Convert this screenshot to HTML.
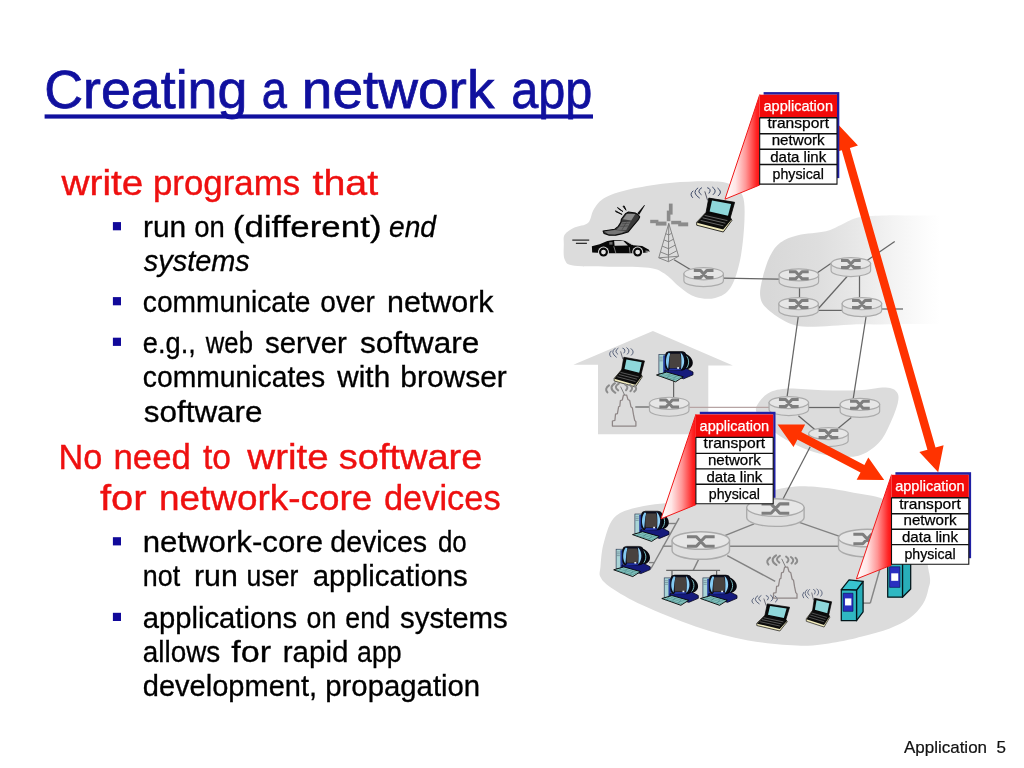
<!DOCTYPE html>
<html><head><meta charset="utf-8"><title>Creating a network app</title>
<style>html,body{margin:0;padding:0;background:#fff;overflow:hidden}svg{display:block}text{font-family:"Liberation Sans",sans-serif;white-space:pre}</style></head><body>
<svg width="1024" height="768" viewBox="0 0 1024 768" style="will-change:transform">
<rect width="1024" height="768" fill="#ffffff"/>
<defs>
<linearGradient id="gisp" gradientUnits="userSpaceOnUse" x1="760" y1="0" x2="940" y2="0"><stop offset="0.05" stop-color="#d8d8d8"/><stop offset="0.32" stop-color="#dedede"/><stop offset="0.54" stop-color="#e8e8e8"/><stop offset="0.755" stop-color="#f4f4f4"/><stop offset="0.92" stop-color="#fcfcfc"/><stop offset="1" stop-color="#ffffff"/></linearGradient>
<linearGradient id="gcall" x1="0" y1="0" x2="1" y2="0"><stop offset="0" stop-color="#ffffff"/><stop offset="0.3" stop-color="#ffe6e6"/><stop offset="0.6" stop-color="#ff9696"/><stop offset="0.9" stop-color="#ff2626"/><stop offset="1" stop-color="#ff1010"/></linearGradient>
</defs>
<path d="M563.8,244.2C563.8,240.0 563.0,237.3 564.8,234.5C566.6,231.7 570.6,229.6 574.5,227.6C578.4,225.6 585.0,225.8 588.2,222.7C591.5,219.6 591.1,213.2 594.0,209.0C596.9,204.8 599.3,200.7 605.8,197.3C612.3,193.9 622.0,191.0 633.1,188.6C644.2,186.2 659.2,183.9 672.2,182.7C685.2,181.5 701.5,181.0 711.3,181.3C721.1,181.6 725.6,182.2 730.8,184.6C736.0,186.9 740.2,189.7 742.5,195.4C744.8,201.1 744.8,208.4 744.5,218.8C744.2,229.2 742.8,246.5 740.5,257.9C738.2,269.3 735.0,280.5 730.8,287.2C726.6,293.9 721.1,296.3 715.2,297.9C709.3,299.5 701.5,298.8 695.6,297.0C689.7,295.2 685.2,291.1 680.0,287.2C674.8,283.3 669.6,276.8 664.4,273.5C659.2,270.2 657.2,268.8 648.8,267.7C640.3,266.6 626.0,267.0 613.6,266.7C601.2,266.4 582.6,266.8 574.5,265.7C566.4,264.6 566.6,263.4 564.8,259.8C563.0,256.2 563.8,248.4 563.8,244.2Z" fill="#dcdcdc"/>
<path d="M760.2,296.0C759.6,291.2 760.8,285.4 762.4,278.8C764.0,272.2 766.8,262.5 769.8,256.5C772.8,250.5 775.8,246.2 780.5,242.6C785.2,239.0 790.4,237.1 798.0,235.2C805.6,233.3 818.6,233.0 826.0,231.2C833.4,229.4 836.9,226.5 842.4,224.2C847.9,221.9 851.5,218.8 858.8,217.3C866.1,215.8 876.8,215.7 886.2,215.4C895.6,215.1 904.4,215.6 915.0,215.6C925.6,215.6 938.3,215.6 950.0,215.6C961.7,215.6 978.3,206.5 985.0,215.6C991.7,224.7 990.0,251.9 990.0,270.0C990.0,288.1 991.7,315.0 985.0,324.0C978.3,333.0 961.7,324.0 950.0,324.0C938.3,324.0 926.7,323.9 915.0,324.0C903.3,324.1 890.3,324.3 880.0,324.4C869.7,324.5 865.6,324.0 853.4,324.4C841.2,324.8 818.3,327.2 806.9,326.7C795.5,326.2 791.8,324.4 785.0,321.2C778.2,318.1 770.0,311.8 765.9,307.6C761.8,303.4 760.8,300.8 760.2,296.0Z" fill="url(#gisp)"/>
<path d="M756.4,406.6C757.9,403.0 762.5,396.8 767.4,393.8C772.3,390.8 776.5,389.3 785.6,388.7C794.7,388.1 810.0,389.9 822.1,390.2C834.2,390.4 847.9,390.7 858.5,390.2C869.1,389.7 879.5,387.1 885.9,387.4C892.3,387.7 894.8,389.4 896.8,392.0C898.8,394.6 899.0,397.5 897.8,403.0C896.6,408.5 892.8,418.1 889.6,424.8C886.4,431.5 883.8,437.9 878.6,443.1C873.4,448.3 866.4,453.7 858.5,455.8C850.6,457.9 839.4,456.7 831.2,455.8C823.0,454.9 816.9,453.1 809.3,450.4C801.7,447.7 793.0,443.6 785.6,439.4C778.2,435.2 769.6,428.9 765.0,425.0C760.4,421.1 759.6,418.8 758.2,415.7C756.8,412.6 754.9,410.2 756.4,406.6Z" fill="#dcdcdc"/>
<path d="M600.5,566.6C601.1,560.8 601.4,550.5 604.0,542.0C606.6,533.5 608.8,521.8 616.4,515.6C624.0,509.4 636.6,507.4 649.8,505.0C663.0,502.6 679.1,502.9 695.5,501.5C711.9,500.1 733.0,498.6 748.2,496.3C763.4,494.0 775.8,489.1 786.9,487.5C798.0,485.9 803.9,485.9 815.0,486.8C826.1,487.7 841.4,490.2 853.7,492.7C866.0,495.1 878.4,495.6 888.9,501.5C899.4,507.4 910.3,516.0 917.0,528.0C923.7,540.0 927.4,563.4 929.3,573.6C931.2,583.8 929.4,584.2 928.3,589.3C927.2,594.3 926.1,599.0 922.9,603.9C919.7,608.8 914.7,614.5 909.2,618.6C903.7,622.7 897.6,625.4 889.7,628.4C881.8,631.4 870.9,634.3 862.0,636.6C853.1,638.9 846.3,640.7 836.1,642.2C825.9,643.7 815.6,646.0 801.0,645.7C786.4,645.4 765.8,643.6 748.2,640.4C730.6,637.2 713.1,632.2 695.5,626.4C677.9,620.5 656.8,611.8 642.7,605.3C628.6,598.8 618.1,592.4 611.1,587.7C604.1,583.0 602.3,580.6 600.5,577.1C598.7,573.6 599.9,572.5 600.5,566.6Z" fill="#dcdcdc"/>
<path d="M652.9,330.9L732.9,365.4H708.3V434.3H598V364.8H573.4Z" fill="#dcdcdc"/>
<line x1="674.1" y1="259.8" x2="692.0" y2="270.5" stroke="#666666" stroke-width="1.25"/>
<line x1="723.4" y1="278.2" x2="779.0" y2="279.2" stroke="#666666" stroke-width="1.25"/>
<line x1="817.0" y1="273.0" x2="833.0" y2="262.0" stroke="#666666" stroke-width="1.25"/>
<line x1="799.5" y1="287.0" x2="799.5" y2="297.0" stroke="#666666" stroke-width="1.25"/>
<line x1="848.0" y1="275.5" x2="818.0" y2="309.0" stroke="#666666" stroke-width="1.25"/>
<line x1="859.5" y1="275.5" x2="859.5" y2="297.0" stroke="#666666" stroke-width="1.25"/>
<line x1="818.0" y1="310.4" x2="842.0" y2="310.4" stroke="#666666" stroke-width="1.25"/>
<line x1="882.0" y1="309.0" x2="903.0" y2="309.0" stroke="#666666" stroke-width="1.25"/>
<line x1="867.0" y1="260.5" x2="894.7" y2="241.6" stroke="#666666" stroke-width="1.25"/>
<line x1="798.2" y1="317.0" x2="787.1" y2="396.6" stroke="#666666" stroke-width="1.25"/>
<line x1="866.0" y1="317.0" x2="853.1" y2="399.3" stroke="#666666" stroke-width="1.25"/>
<line x1="809.0" y1="407.5" x2="840.0" y2="407.5" stroke="#666666" stroke-width="1.25"/>
<line x1="798.4" y1="415.7" x2="814.8" y2="429.4" stroke="#666666" stroke-width="1.25"/>
<line x1="851.3" y1="417.5" x2="836.7" y2="429.4" stroke="#666666" stroke-width="1.25"/>
<line x1="810.2" y1="446.7" x2="783.0" y2="499.0" stroke="#666666" stroke-width="1.25"/>
<line x1="689.4" y1="407.4" x2="769.0" y2="407.4" stroke="#b7a4a4" stroke-width="1.3"/>
<line x1="635.3" y1="407.0" x2="649.0" y2="407.0" stroke="#666666" stroke-width="1.25"/>
<line x1="673.6" y1="381.0" x2="673.6" y2="398.0" stroke="#666666" stroke-width="1.25"/>
<line x1="724.8" y1="535.6" x2="754.1" y2="523.9" stroke="#828282" stroke-width="1.4"/>
<line x1="729.5" y1="546.3" x2="838.5" y2="546.3" stroke="#828282" stroke-width="1.4"/>
<line x1="727.2" y1="555.6" x2="775.2" y2="581.4" stroke="#828282" stroke-width="1.4"/>
<line x1="699.0" y1="558.6" x2="693.2" y2="570.4" stroke="#828282" stroke-width="1.4"/>
<line x1="666.2" y1="570.4" x2="720.1" y2="570.4" stroke="#666666" stroke-width="1.25"/>
<line x1="672.0" y1="570.4" x2="672.0" y2="576.0" stroke="#666666" stroke-width="1.25"/>
<line x1="716.6" y1="570.4" x2="716.6" y2="576.0" stroke="#666666" stroke-width="1.25"/>
<line x1="672.0" y1="546.2" x2="662.7" y2="546.2" stroke="#828282" stroke-width="1.4"/>
<line x1="679.1" y1="518.1" x2="651.0" y2="568.5" stroke="#828282" stroke-width="1.4"/>
<line x1="668.0" y1="523.5" x2="676.0" y2="523.5" stroke="#828282" stroke-width="1.4"/>
<line x1="649.0" y1="562.6" x2="654.5" y2="562.6" stroke="#828282" stroke-width="1.4"/>
<line x1="798.6" y1="522.2" x2="839.6" y2="536.3" stroke="#828282" stroke-width="1.4"/>
<line x1="863.1" y1="603.1" x2="870.3" y2="603.1" stroke="#868686" stroke-width="1.5"/>
<line x1="870.3" y1="603.1" x2="879.9" y2="569.1" stroke="#868686" stroke-width="1.5"/>
<path d="M683.90,273.75v6.88A19.75,6.06 0 0 0 723.40,280.63v-6.88Z" fill="#dedede" stroke="#ababab" stroke-width="1.19"/>
<ellipse cx="703.65" cy="273.75" rx="19.75" ry="6.06" fill="#e6e6e6" stroke="#ababab" stroke-width="1.19"/>
<path d="M693.80,270.55H700.55L706.75,277.55H713.50M693.80,277.55H700.55L706.75,270.55H713.50" fill="none" stroke="#7e7e7e" stroke-width="3.00" stroke-linejoin="round"/>
<path d="M779.10,274.90v6.88A19.75,6.06 0 0 0 818.60,281.78v-6.88Z" fill="#dedede" stroke="#ababab" stroke-width="1.19"/>
<ellipse cx="798.85" cy="274.90" rx="19.75" ry="6.06" fill="#e6e6e6" stroke="#ababab" stroke-width="1.19"/>
<path d="M789.00,271.70H795.75L801.95,278.70H808.70M789.00,278.70H795.75L801.95,271.70H808.70" fill="none" stroke="#7e7e7e" stroke-width="3.00" stroke-linejoin="round"/>
<path d="M831.10,263.60v6.88A19.75,6.06 0 0 0 870.60,270.48v-6.88Z" fill="#dedede" stroke="#ababab" stroke-width="1.19"/>
<ellipse cx="850.85" cy="263.60" rx="19.75" ry="6.06" fill="#e6e6e6" stroke="#ababab" stroke-width="1.19"/>
<path d="M841.00,260.40H847.75L853.95,267.40H860.70M841.00,267.40H847.75L853.95,260.40H860.70" fill="none" stroke="#7e7e7e" stroke-width="3.00" stroke-linejoin="round"/>
<path d="M778.85,303.70v6.88A19.75,6.06 0 0 0 818.35,310.58v-6.88Z" fill="#dedede" stroke="#ababab" stroke-width="1.19"/>
<ellipse cx="798.60" cy="303.70" rx="19.75" ry="6.06" fill="#e6e6e6" stroke="#ababab" stroke-width="1.19"/>
<path d="M788.75,300.50H795.50L801.70,307.50H808.45M788.75,307.50H795.50L801.70,300.50H808.45" fill="none" stroke="#7e7e7e" stroke-width="3.00" stroke-linejoin="round"/>
<path d="M842.15,303.70v6.88A19.75,6.06 0 0 0 881.65,310.58v-6.88Z" fill="#dedede" stroke="#ababab" stroke-width="1.19"/>
<ellipse cx="861.90" cy="303.70" rx="19.75" ry="6.06" fill="#e6e6e6" stroke="#ababab" stroke-width="1.19"/>
<path d="M852.05,300.50H858.80L865.00,307.50H871.75M852.05,307.50H858.80L865.00,300.50H871.75" fill="none" stroke="#7e7e7e" stroke-width="3.00" stroke-linejoin="round"/>
<path d="M649.45,403.30v6.88A19.75,6.06 0 0 0 688.95,410.18v-6.88Z" fill="#dedede" stroke="#ababab" stroke-width="1.19"/>
<ellipse cx="669.20" cy="403.30" rx="19.75" ry="6.06" fill="#e6e6e6" stroke="#ababab" stroke-width="1.19"/>
<path d="M659.35,400.10H666.10L672.30,407.10H679.05M659.35,407.10H666.10L672.30,400.10H679.05" fill="none" stroke="#7e7e7e" stroke-width="3.00" stroke-linejoin="round"/>
<path d="M769.05,402.60v6.88A19.75,6.06 0 0 0 808.55,409.48v-6.88Z" fill="#dedede" stroke="#ababab" stroke-width="1.19"/>
<ellipse cx="788.80" cy="402.60" rx="19.75" ry="6.06" fill="#e6e6e6" stroke="#ababab" stroke-width="1.19"/>
<path d="M778.95,399.40H785.70L791.90,406.40H798.65M778.95,406.40H785.70L791.90,399.40H798.65" fill="none" stroke="#7e7e7e" stroke-width="3.00" stroke-linejoin="round"/>
<path d="M840.15,404.40v6.88A19.75,6.06 0 0 0 879.65,411.28v-6.88Z" fill="#dedede" stroke="#ababab" stroke-width="1.19"/>
<ellipse cx="859.90" cy="404.40" rx="19.75" ry="6.06" fill="#e6e6e6" stroke="#ababab" stroke-width="1.19"/>
<path d="M850.05,401.20H856.80L863.00,408.20H869.75M850.05,408.20H856.80L863.00,401.20H869.75" fill="none" stroke="#7e7e7e" stroke-width="3.00" stroke-linejoin="round"/>
<path d="M808.70,433.60v6.88A19.75,6.06 0 0 0 848.20,440.48v-6.88Z" fill="#dedede" stroke="#ababab" stroke-width="1.19"/>
<ellipse cx="828.45" cy="433.60" rx="19.75" ry="6.06" fill="#e6e6e6" stroke="#ababab" stroke-width="1.19"/>
<path d="M818.60,430.40H825.35L831.55,437.40H838.30M818.60,437.40H825.35L831.55,430.40H838.30" fill="none" stroke="#7e7e7e" stroke-width="3.00" stroke-linejoin="round"/>
<path d="M672.10,540.50v10.00A28.70,8.80 0 0 0 729.50,550.50v-10.00Z" fill="#dedede" stroke="#ababab" stroke-width="1.40"/>
<ellipse cx="700.80" cy="540.50" rx="28.70" ry="8.80" fill="#e6e6e6" stroke="#ababab" stroke-width="1.40"/>
<path d="M686.95,536.80H696.40L705.20,546.20H714.65M686.95,546.20H696.40L705.20,536.80H714.65" fill="none" stroke="#7e7e7e" stroke-width="3.10" stroke-linejoin="round"/>
<path d="M746.70,507.60v10.00A28.70,8.80 0 0 0 804.10,517.60v-10.00Z" fill="#dedede" stroke="#ababab" stroke-width="1.40"/>
<ellipse cx="775.40" cy="507.60" rx="28.70" ry="8.80" fill="#e6e6e6" stroke="#ababab" stroke-width="1.40"/>
<path d="M761.55,503.90H771.00L779.80,513.30H789.25M761.55,513.30H771.00L779.80,503.90H789.25" fill="none" stroke="#7e7e7e" stroke-width="3.10" stroke-linejoin="round"/>
<path d="M838.50,538.00v10.00A28.70,8.80 0 0 0 895.90,548.00v-10.00Z" fill="#dedede" stroke="#ababab" stroke-width="1.40"/>
<ellipse cx="867.20" cy="538.00" rx="28.70" ry="8.80" fill="#e6e6e6" stroke="#ababab" stroke-width="1.40"/>
<path d="M853.35,534.30H862.80L871.60,543.70H881.05M853.35,543.70H862.80L871.60,534.30H881.05" fill="none" stroke="#7e7e7e" stroke-width="3.10" stroke-linejoin="round"/><defs>
<g id="laptop">
<path d="M11.6,3.4L8.8,-5.6" stroke="#223" stroke-width="0.7" fill="none"/>
<g fill="none" stroke="#3c4866" stroke-width="1.0" stroke-linecap="round">
<path d="M-3,-6q-4,3.2 -0.4,6.6"/><path d="M1.8,-9q-6.8,4.4 1.6,10"/><path d="M5.6,-9.2q-5.6,3.4 -0.4,6.8"/>
<path d="M11.6,-9.2q4.6,1.2 1.4,5.4"/><path d="M16.6,-9.8q5.2,3.6 0.6,7.4"/><path d="M21.8,-8.8q5.4,3.8 0.4,7.6"/>
</g>
<polygon points="10.1,15.4 34.3,20.5 35.9,23.4 27.3,35 0.7,28.2 0.7,25.2" fill="#f1ebbd" stroke="#000" stroke-width="0.8" stroke-linejoin="round"/>
<polygon points="10.1,15.2 34.3,20.4 35.6,22.6 27.2,32.6 0.9,25.8" fill="#0c0c0c"/>
<g stroke="#8a8a8a" stroke-width="0.7" fill="none"><path d="M8.6,18.4L31.4,23.6"/><path d="M6.6,20.8L29.4,26.2"/><path d="M4.6,23.4L27.4,28.8"/></g>
<polygon points="12.8,1.1 38.6,5.3 34.3,20.5 10.1,15.4" fill="#0a0a0a" stroke="#000" stroke-width="0.8" stroke-linejoin="round"/>
<polygon points="16,3.6 35.1,6.9 32,18.8 13.6,14.6" fill="#8ed7da"/>
</g>
<g id="pc">
<path d="M22,1.6C29,0.6 36.6,5.4 36.8,11.6C37,16.6 32,19.8 24,19.4Z" fill="#07070c"/>
<path d="M29.6,4.4C33.6,7.4 33.8,14.6 29.2,18.2" fill="none" stroke="#86cfd6" stroke-width="0.9"/>
<rect x="2.9" y="3.4" width="6.2" height="19.4" fill="#a9d4d6" stroke="#1d2b48" stroke-width="0.6"/>
<rect x="7.2" y="4.4" width="2.8" height="18" fill="#2740a0"/>
<path d="M3.5,6.2h3.2M3.5,8h3.2M3.5,9.8h3.2" stroke="#567" stroke-width="0.5"/>
<polygon points="8.8,19.2 30,17.4 37,21 37,23.8 27.6,27.8 8.8,22.8" fill="#151a7c" stroke="#04041c" stroke-width="0.8"/>
<rect x="9.4" y="0.6" width="20.6" height="18.6" rx="4" ry="4" fill="#0b0d1c" stroke="#000" stroke-width="0.6"/>
<path d="M12.6,1.8C9.2,6 9.2,14 12.2,18C12.8,12 13,7 14.2,2.4Z" fill="#84caf2"/>
<path d="M24.6,1.4C29.2,5.5 29.4,14 25,18.4C25.6,13 25.6,6.5 24.6,1.4Z" fill="#8fd0f5"/>
<path d="M14.4,2.8H24.2C25.2,7 25.2,13 24.4,17H13.6C13,12 13.2,7 14.4,2.8Z" fill="#48423f"/>
<path d="M14,17.4L24.4,17.4L25,19.2L12.6,19.6Z" fill="#2233a0"/>
<rect x="21.2" y="16.2" width="1.8" height="1.6" fill="#e8f4ff"/>
<polygon points="0.5,24 10.6,21.1 27.3,25.8 19.6,30.8" fill="#8ccac2" stroke="#000" stroke-width="0.9" stroke-linejoin="round"/>
<path d="M3.8,24.6L21,29.2M6.8,23.6L23.4,28M9.6,22.8L25.4,26.8M8,22L4.4,26M14,23.4L10.4,27.6M20,25.2L16.4,29.4" stroke="#2e6f78" stroke-width="0.45"/>
</g>
<g id="ap">
<polygon points="0,0 0,-5 2.5,-5.6 3.1,-11.8 5,-12.4 6.2,-19.2 7.4,-19.8 8,-25.4 9.9,-26 11.1,-31 14.2,-31 15.5,-26.6 17.3,-25.4 18.6,-19.2 20,-18 21,-11.8 22.3,-5.6 23.5,-4.3 23.5,0" fill="none" stroke="#8e8686" stroke-width="1.25" stroke-linejoin="round"/>
<path d="M12.2,-31L8.2,-39.4" stroke="#777" stroke-width="0.9"/>
<g fill="none" stroke="#8c8c8c" stroke-width="2" stroke-linecap="round">
<path d="M-3.4,-40.6q-4.8,3.4 -1.6,7"/><path d="M2.6,-42.8q-7.2,4.6 0.4,9.6"/><path d="M6.4,-42.4q-5.6,3.2 -0.6,6.8"/>
<path d="M12.6,-41.6q4.2,2.6 1,5.8"/><path d="M17.4,-41.2q4.4,3 0.6,6.4"/><path d="M22,-40.4q3.6,3.2 -0.2,6"/>
</g>
</g>
</defs>
<use href="#laptop" transform="translate(696.00,197.00) scale(1.000,1.000)"/>
<use href="#laptop" transform="translate(613.60,356.30) scale(0.800,0.875)"/>
<use href="#laptop" transform="translate(756.20,603.00) scale(0.865,0.800)"/>
<use href="#laptop" transform="translate(805.80,597.30) scale(0.670,0.850)"/>
<use href="#pc" transform="translate(656.00,351.00) scale(1.000,1.000)"/>
<use href="#pc" transform="translate(632.00,510.60) scale(1.000,1.000)"/>
<use href="#pc" transform="translate(613.20,545.80) scale(1.000,1.000)"/>
<use href="#pc" transform="translate(661.30,574.50) scale(1.000,1.000)"/>
<use href="#pc" transform="translate(700.00,574.50) scale(1.000,1.000)"/>
<use href="#ap" transform="translate(612.40,426.00) scale(1.000,1.000)"/>
<use href="#ap" transform="translate(773.50,598.20) scale(1.000,1.000)"/>
<path d="M668.75,223.4L658.75,257.8M668.75,223.4L678.6,256.25M668.75,223.4L668.4,261.7M658.75,257.8L668.4,261.7L678.6,256.25L658.75,257.8M665.8,233.7L668.6,234.9L671.7,233.3M664.0,239.9L668.6,241.8L673.5,239.2M662.1,246.1L668.5,248.7L675.3,245.1M660.5,252.0L668.5,255.2L676.9,250.7" fill="none" stroke="#7d7d7d" stroke-width="0.9"/>
<rect x="666.8" y="210.6" width="3.6" height="10.6" fill="#8b8b8b"/>
<rect x="668.9" y="203.6" width="3.7" height="11.0" fill="#8b8b8b"/>
<rect x="650.2" y="219.8" width="8.2" height="3.4" fill="#8b8b8b"/>
<rect x="655.8" y="221.6" width="10.7" height="4.0" fill="#8b8b8b"/>
<rect x="671.2" y="220.8" width="10.0" height="3.5" fill="#8b8b8b"/>
<rect x="678.2" y="222.4" width="10.0" height="3.9" fill="#8b8b8b"/>
<polygon points="603.08,230.96 604.09,233.50 609.17,235.13 615.77,235.13 622.37,233.60 627.95,232.08 633.53,225.38 638.61,219.29 639.73,216.75 638.10,214.72 635.56,213.10 628.46,212.08 625.41,213.71 621.35,219.29 620.84,222.34 618.30,226.40 614.75,229.19 608.15,230.20" fill="#3a3a3a" stroke="#0a0a0a" stroke-width="1.1" stroke-linejoin="round"/>
<polygon points="622.87,219.19 626.68,213.96 635.31,214.11 631.25,220.41" fill="#8c8c8c"/>
<polygon points="621.86,222.34 630.74,221.42 626.17,230.36 616.53,229.70 619.32,226.65" fill="#6e6e6e"/>
<polygon points="604.35,231.57 614.75,229.95 625.66,231.07 621.60,233.10 614.75,234.42 608.41,234.31" fill="#767676"/>
<path d="M621.9,223.9L629.5,223.1M620.3,226.4L627.9,225.9M626.4,222.3L621.9,229.9" stroke="#3c3c3c" stroke-width="0.6" fill="none"/>
<polygon points="637.34,213.30 639.22,214.72 644.95,205.28 644.29,204.97" fill="#0d0d0d"/>
<polygon points="615.51,210.76 615.87,211.78 622.11,214.47" fill="#0d0d0d" stroke="#0d0d0d" stroke-width="0.9" stroke-linejoin="round"/>
<polygon points="617.54,207.51 618.41,208.73 622.97,211.57" fill="#0d0d0d" stroke="#0d0d0d" stroke-width="0.9" stroke-linejoin="round"/>
<polygon points="622.97,206.19 624.29,206.09 626.02,210.25" fill="#0d0d0d" stroke="#0d0d0d" stroke-width="0.9" stroke-linejoin="round"/>
<polygon points="591.87,246.26 599.61,244.32 607.35,241.10 613.81,239.94 620.26,239.94 625.42,241.10 633.16,245.29 642.19,245.94 648.97,249.81 649.61,251.74 644.77,252.84 632.52,253.35 609.29,253.35 597.68,252.71 592.19,252.39" fill="#080808"/>
<polygon points="614.13,240.84 623.16,240.84 627.87,245.61 614.58,245.87" fill="#d2d2d2"/>
<polygon points="626.19,241.61 627.48,241.29 633.16,244.71 632.00,245.10" fill="#bdbdbd"/>
<polygon points="609.29,242.06 612.52,242.06 612.52,244.65 609.29,244.65" fill="#6c6c6c"/>
<polygon points="645.42,250.45 649.29,250.90 649.16,251.94 645.55,251.68" fill="#9a9a9a"/>
<path d="M613.8,246.3L615.9,253.4M629.3,247.2L630.1,253.2" stroke="#c8c8c8" stroke-width="0.6" fill="none"/>
<circle cx="603.48" cy="252.06" r="5.5" fill="#dcdcdc"/><circle cx="603.48" cy="252.06" r="4.5" fill="#080808"/><circle cx="603.48" cy="252.06" r="2.4" fill="#e4e4e4"/>
<circle cx="637.68" cy="252.06" r="5.5" fill="#dcdcdc"/><circle cx="637.68" cy="252.06" r="4.5" fill="#080808"/><circle cx="637.68" cy="252.06" r="2.4" fill="#e4e4e4"/>
<line x1="572.3" y1="240.1" x2="589.2" y2="240.1" stroke="#111" stroke-width="1.1"/>
<line x1="575.9" y1="243.3" x2="586.9" y2="243.3" stroke="#111" stroke-width="1.1"/>
<polygon points="856.53,590.20 863.09,581.29 863.09,611.77 856.53,620.68" fill="#28aeb9" stroke="#03161a" stroke-width="1.25" stroke-linejoin="round"/>
<polygon points="841.29,589.73 849.03,579.88 863.09,581.29 856.53,590.20" fill="#38c4cf" stroke="#03161a" stroke-width="1.25" stroke-linejoin="round"/>
<polygon points="841.29,589.73 856.53,590.20 856.53,620.68 841.29,620.68" fill="#2fb8c2" stroke="#03161a" stroke-width="1.25" stroke-linejoin="round"/>
<polygon points="843.17,593.25 853.01,593.25 853.01,611.30 843.17,611.30" fill="#2a2fc0" stroke="#0a0a50" stroke-width="0.6"/>
<polygon points="845.04,598.41 851.37,598.41 851.37,605.44 845.04,605.44" fill="#ffffff"/>
<polygon points="902.49,559.72 910.69,559.72 910.69,589.03 902.49,597.23" fill="#28aeb9" stroke="#03161a" stroke-width="1.25" stroke-linejoin="round"/>
<polygon points="887.71,559.72 902.49,559.72 902.49,597.23 887.71,597.23" fill="#2fb8c2" stroke="#03161a" stroke-width="1.25" stroke-linejoin="round"/>
<polygon points="889.59,566.75 899.91,566.75 899.91,587.39 889.59,587.39" fill="#2a2fc0" stroke="#0a0a50" stroke-width="0.6"/>
<polygon points="891.23,573.32 898.26,573.32 898.26,580.82 891.23,580.82" fill="#ffffff"/><polygon points="839.10,125.50 833.72,152.52 841.80,150.21 927.43,449.80 919.35,452.11 938.20,472.20 943.58,445.18 935.50,447.49 849.87,147.90 857.95,145.59" fill="#ff3300"/>
<polygon points="777.60,424.40 793.50,446.90 797.38,439.45 860.53,472.39 856.65,479.84 884.20,480.00 868.30,457.50 864.42,464.95 801.27,432.01 805.15,424.56" fill="#ff3300"/>
<polygon points="759.7,94.7 725.0,199.2 759.7,185.0" fill="url(#gcall)" stroke="#f01818" stroke-width="1"/>
<polygon points="695.9,414.4 661.0,518.8 695.9,504.7" fill="url(#gcall)" stroke="#f01818" stroke-width="1"/>
<polygon points="891.5,474.8 856.4,579.0 891.5,565.1" fill="url(#gcall)" stroke="#f01818" stroke-width="1"/>
<rect x="763.6" y="92.1" width="75.7" height="86" fill="#2020a4"/>
<rect x="759.7" y="94.7" width="77.3" height="89.4" fill="#ffffff"/>
<rect x="759.7" y="94.7" width="77.3" height="22.8" fill="#f20a0a"/>
<path d="M759.7,117.7h77.3M759.7,133.7h77.3M759.7,149.2h77.3M759.7,164.5h77.3" stroke="#111" stroke-width="1.4" fill="none"/>
<path d="M759.7,117.5V184.1H837.0V117.5" stroke="#111" stroke-width="1.1" fill="none"/>
<text x="763.5" y="110.8" font-size="14.8" fill="#fff" stroke="#fff" stroke-width="0.25" textLength="69.5" lengthAdjust="spacingAndGlyphs">application</text>
<text x="767.4" y="128.4" font-size="14.8" fill="#000" stroke="#000" stroke-width="0.25" textLength="61.6" lengthAdjust="spacingAndGlyphs">transport</text>
<text x="771.7" y="145.0" font-size="14.8" fill="#000" stroke="#000" stroke-width="0.25" textLength="53" lengthAdjust="spacingAndGlyphs">network</text>
<text x="770.2" y="162.2" font-size="14.8" fill="#000" stroke="#000" stroke-width="0.25" textLength="56" lengthAdjust="spacingAndGlyphs">data link</text>
<text x="772.6" y="179.3" font-size="14.8" fill="#000" stroke="#000" stroke-width="0.25" textLength="51.2" lengthAdjust="spacingAndGlyphs">physical</text>
<rect x="699.8" y="411.8" width="75.7" height="86" fill="#2020a4"/>
<rect x="695.9" y="414.4" width="77.3" height="89.4" fill="#ffffff"/>
<rect x="695.9" y="414.4" width="77.3" height="22.8" fill="#f20a0a"/>
<path d="M695.9,437.4h77.3M695.9,453.4h77.3M695.9,468.9h77.3M695.9,484.2h77.3" stroke="#111" stroke-width="1.4" fill="none"/>
<path d="M695.9,437.2V503.8H773.2V437.2" stroke="#111" stroke-width="1.1" fill="none"/>
<text x="699.6" y="430.5" font-size="14.8" fill="#fff" stroke="#fff" stroke-width="0.25" textLength="69.5" lengthAdjust="spacingAndGlyphs">application</text>
<text x="703.6" y="448.1" font-size="14.8" fill="#000" stroke="#000" stroke-width="0.25" textLength="61.6" lengthAdjust="spacingAndGlyphs">transport</text>
<text x="707.9" y="464.7" font-size="14.8" fill="#000" stroke="#000" stroke-width="0.25" textLength="53" lengthAdjust="spacingAndGlyphs">network</text>
<text x="706.4" y="481.9" font-size="14.8" fill="#000" stroke="#000" stroke-width="0.25" textLength="56" lengthAdjust="spacingAndGlyphs">data link</text>
<text x="708.8" y="499.0" font-size="14.8" fill="#000" stroke="#000" stroke-width="0.25" textLength="51.2" lengthAdjust="spacingAndGlyphs">physical</text>
<rect x="895.4" y="472.2" width="75.7" height="86" fill="#2020a4"/>
<rect x="891.5" y="474.8" width="77.3" height="89.4" fill="#ffffff"/>
<rect x="891.5" y="474.8" width="77.3" height="22.8" fill="#f20a0a"/>
<path d="M891.5,497.8h77.3M891.5,513.8h77.3M891.5,529.3h77.3M891.5,544.6h77.3" stroke="#111" stroke-width="1.4" fill="none"/>
<path d="M891.5,497.6V564.2H968.8V497.6" stroke="#111" stroke-width="1.1" fill="none"/>
<text x="895.2" y="490.9" font-size="14.8" fill="#fff" stroke="#fff" stroke-width="0.25" textLength="69.5" lengthAdjust="spacingAndGlyphs">application</text>
<text x="899.2" y="508.5" font-size="14.8" fill="#000" stroke="#000" stroke-width="0.25" textLength="61.6" lengthAdjust="spacingAndGlyphs">transport</text>
<text x="903.5" y="525.1" font-size="14.8" fill="#000" stroke="#000" stroke-width="0.25" textLength="53" lengthAdjust="spacingAndGlyphs">network</text>
<text x="902.0" y="542.3" font-size="14.8" fill="#000" stroke="#000" stroke-width="0.25" textLength="56" lengthAdjust="spacingAndGlyphs">data link</text>
<text x="904.4" y="559.4" font-size="14.8" fill="#000" stroke="#000" stroke-width="0.25" textLength="51.2" lengthAdjust="spacingAndGlyphs">physical</text>
<rect x="44.6" y="114.4" width="548.4" height="4.2" fill="#10109e"/>
<rect x="112.9" y="222.1" width="8.1" height="8.2" fill="#11099a"/>
<rect x="112.9" y="297.1" width="8.1" height="8.2" fill="#11099a"/>
<rect x="112.9" y="337.7" width="8.1" height="8.2" fill="#11099a"/>
<rect x="112.9" y="537.2" width="8.1" height="8.2" fill="#11099a"/>
<rect x="112.9" y="612.8" width="8.1" height="8.2" fill="#11099a"/>
<text x="903.9" y="753" font-size="17" fill="#111" stroke="#111" stroke-width="0.2" xml:space="preserve">Application  5</text><text x="44.26" y="107.6" font-size="52.8" fill="#10109e" stroke="#10109e" stroke-width="0.75" textLength="203.16" lengthAdjust="spacingAndGlyphs">Creating</text>
<text x="261.79" y="107.6" font-size="52.8" fill="#10109e" stroke="#10109e" stroke-width="0.75" textLength="25.17" lengthAdjust="spacingAndGlyphs">a</text>
<text x="301.88" y="107.6" font-size="52.8" fill="#10109e" stroke="#10109e" stroke-width="0.75" textLength="192.50" lengthAdjust="spacingAndGlyphs">network</text>
<text x="511.16" y="107.6" font-size="52.8" fill="#10109e" stroke="#10109e" stroke-width="0.75" textLength="81.10" lengthAdjust="spacingAndGlyphs">app</text>
<text x="61.53" y="194.7" font-size="34.2" fill="#ee1010" stroke="#ee1010" stroke-width="0.4" textLength="81.82" lengthAdjust="spacingAndGlyphs">write</text>
<text x="152.96" y="194.7" font-size="34.2" fill="#ee1010" stroke="#ee1010" stroke-width="0.4" textLength="147.15" lengthAdjust="spacingAndGlyphs">programs</text>
<text x="312.50" y="194.7" font-size="34.2" fill="#ee1010" stroke="#ee1010" stroke-width="0.4" textLength="65.67" lengthAdjust="spacingAndGlyphs">that</text>
<text x="142.99" y="236.7" font-size="29.6" fill="#000" stroke="#000" stroke-width="0.32" textLength="43.24" lengthAdjust="spacingAndGlyphs">run</text>
<text x="194.32" y="236.7" font-size="29.6" fill="#000" stroke="#000" stroke-width="0.32" textLength="30.53" lengthAdjust="spacingAndGlyphs">on</text>
<text x="232.82" y="236.7" font-size="29.6" fill="#000" stroke="#000" stroke-width="0.32" textLength="148.69" lengthAdjust="spacingAndGlyphs">(different)</text>
<text x="389.05" y="236.7" font-size="29.6" fill="#000" stroke="#000" stroke-width="0.32" font-style="italic" textLength="46.98" lengthAdjust="spacingAndGlyphs">end</text>
<text x="143.75" y="270.6" font-size="29.6" fill="#000" stroke="#000" stroke-width="0.32" font-style="italic" textLength="106.05" lengthAdjust="spacingAndGlyphs">systems</text>
<text x="142.80" y="312.4" font-size="29.6" fill="#000" stroke="#000" stroke-width="0.32" textLength="167.64" lengthAdjust="spacingAndGlyphs">communicate</text>
<text x="320.30" y="312.4" font-size="29.6" fill="#000" stroke="#000" stroke-width="0.32" textLength="54.56" lengthAdjust="spacingAndGlyphs">over</text>
<text x="386.97" y="312.4" font-size="29.6" fill="#000" stroke="#000" stroke-width="0.32" textLength="106.57" lengthAdjust="spacingAndGlyphs">network</text>
<text x="142.83" y="353.0" font-size="29.6" fill="#000" stroke="#000" stroke-width="0.32" textLength="52.96" lengthAdjust="spacingAndGlyphs">e.g.,</text>
<text x="205.87" y="353.0" font-size="29.6" fill="#000" stroke="#000" stroke-width="0.32" textLength="47.03" lengthAdjust="spacingAndGlyphs">web</text>
<text x="265.00" y="353.0" font-size="29.6" fill="#000" stroke="#000" stroke-width="0.32" textLength="81.86" lengthAdjust="spacingAndGlyphs">server</text>
<text x="360.00" y="353.0" font-size="29.6" fill="#000" stroke="#000" stroke-width="0.32" textLength="119.24" lengthAdjust="spacingAndGlyphs">software</text>
<text x="142.79" y="387.3" font-size="29.6" fill="#000" stroke="#000" stroke-width="0.32" textLength="182.47" lengthAdjust="spacingAndGlyphs">communicates</text>
<text x="337.26" y="387.3" font-size="29.6" fill="#000" stroke="#000" stroke-width="0.32" textLength="52.96" lengthAdjust="spacingAndGlyphs">with</text>
<text x="400.24" y="387.3" font-size="29.6" fill="#000" stroke="#000" stroke-width="0.32" textLength="106.62" lengthAdjust="spacingAndGlyphs">browser</text>
<text x="143.75" y="421.7" font-size="29.6" fill="#000" stroke="#000" stroke-width="0.32" textLength="118.74" lengthAdjust="spacingAndGlyphs">software</text>
<text x="58.50" y="469.2" font-size="34.2" fill="#ee1010" stroke="#ee1010" stroke-width="0.4" textLength="43.77" lengthAdjust="spacingAndGlyphs">No</text>
<text x="113.47" y="469.2" font-size="34.2" fill="#ee1010" stroke="#ee1010" stroke-width="0.4" textLength="77.33" lengthAdjust="spacingAndGlyphs">need</text>
<text x="203.00" y="469.2" font-size="34.2" fill="#ee1010" stroke="#ee1010" stroke-width="0.4" textLength="28.00" lengthAdjust="spacingAndGlyphs">to</text>
<text x="247.38" y="469.2" font-size="34.2" fill="#ee1010" stroke="#ee1010" stroke-width="0.4" textLength="81.27" lengthAdjust="spacingAndGlyphs">write</text>
<text x="338.75" y="469.2" font-size="34.2" fill="#ee1010" stroke="#ee1010" stroke-width="0.4" textLength="143.63" lengthAdjust="spacingAndGlyphs">software</text>
<text x="100.00" y="510.0" font-size="34.2" fill="#ee1010" stroke="#ee1010" stroke-width="0.4" textLength="46.70" lengthAdjust="spacingAndGlyphs">for</text>
<text x="159.09" y="510.0" font-size="34.2" fill="#ee1010" stroke="#ee1010" stroke-width="0.4" textLength="213.25" lengthAdjust="spacingAndGlyphs">network-core</text>
<text x="383.99" y="510.0" font-size="34.2" fill="#ee1010" stroke="#ee1010" stroke-width="0.4" textLength="116.61" lengthAdjust="spacingAndGlyphs">devices</text>
<text x="142.70" y="552.1" font-size="29.6" fill="#000" stroke="#000" stroke-width="0.32" textLength="180.29" lengthAdjust="spacingAndGlyphs">network-core</text>
<text x="330.29" y="552.1" font-size="29.6" fill="#000" stroke="#000" stroke-width="0.32" textLength="96.73" lengthAdjust="spacingAndGlyphs">devices</text>
<text x="437.88" y="552.1" font-size="29.6" fill="#000" stroke="#000" stroke-width="0.32" textLength="28.78" lengthAdjust="spacingAndGlyphs">do</text>
<text x="142.84" y="586.1" font-size="29.6" fill="#000" stroke="#000" stroke-width="0.32" textLength="37.36" lengthAdjust="spacingAndGlyphs">not</text>
<text x="193.98" y="586.1" font-size="29.6" fill="#000" stroke="#000" stroke-width="0.32" textLength="43.77" lengthAdjust="spacingAndGlyphs">run</text>
<text x="246.60" y="586.1" font-size="29.6" fill="#000" stroke="#000" stroke-width="0.32" textLength="51.77" lengthAdjust="spacingAndGlyphs">user</text>
<text x="312.76" y="586.1" font-size="29.6" fill="#000" stroke="#000" stroke-width="0.32" textLength="155.03" lengthAdjust="spacingAndGlyphs">applications</text>
<text x="142.76" y="627.6" font-size="29.6" fill="#000" stroke="#000" stroke-width="0.32" textLength="154.27" lengthAdjust="spacingAndGlyphs">applications</text>
<text x="306.60" y="627.6" font-size="29.6" fill="#000" stroke="#000" stroke-width="0.32" textLength="29.72" lengthAdjust="spacingAndGlyphs">on</text>
<text x="345.34" y="627.6" font-size="29.6" fill="#000" stroke="#000" stroke-width="0.32" textLength="44.73" lengthAdjust="spacingAndGlyphs">end</text>
<text x="400.00" y="627.6" font-size="29.6" fill="#000" stroke="#000" stroke-width="0.32" textLength="107.79" lengthAdjust="spacingAndGlyphs">systems</text>
<text x="142.81" y="661.8" font-size="29.6" fill="#000" stroke="#000" stroke-width="0.32" textLength="77.44" lengthAdjust="spacingAndGlyphs">allows</text>
<text x="231.25" y="661.8" font-size="29.6" fill="#000" stroke="#000" stroke-width="0.32" textLength="39.83" lengthAdjust="spacingAndGlyphs">for</text>
<text x="282.75" y="661.8" font-size="29.6" fill="#000" stroke="#000" stroke-width="0.32" textLength="65.70" lengthAdjust="spacingAndGlyphs">rapid</text>
<text x="357.10" y="661.8" font-size="29.6" fill="#000" stroke="#000" stroke-width="0.32" textLength="44.57" lengthAdjust="spacingAndGlyphs">app</text>
<text x="142.77" y="695.7" font-size="29.6" fill="#000" stroke="#000" stroke-width="0.32" textLength="174.41" lengthAdjust="spacingAndGlyphs">development,</text>
<text x="325.26" y="695.7" font-size="29.6" fill="#000" stroke="#000" stroke-width="0.32" textLength="154.94" lengthAdjust="spacingAndGlyphs">propagation</text></svg></body></html>
